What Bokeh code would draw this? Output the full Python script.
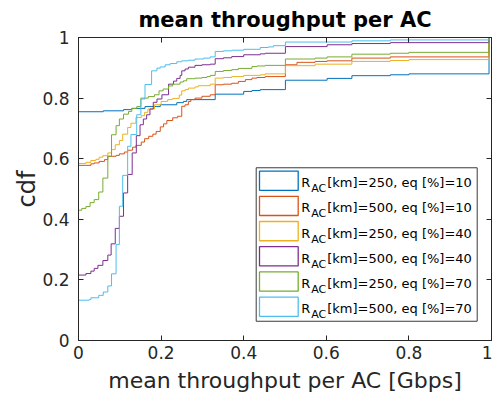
from bokeh.plotting import figure
from bokeh.models import Range1d, LinearAxis, FixedTicker, Label
from bokeh.embed import file_html
from bokeh.resources import INLINE

# ---------------- data (empirical CDF step points) ----------------
# R_AC[km]=250, eq[%]=10
x_r250_eq10 = [0, 0.06, 0.109, 0.129, 0.161, 0.198, 0.238, 0.254, 0.262, 0.331, 0.40, 0.42, 0.44,
               0.501, 0.602, 0.662, 0.755, 0.80, 0.994]
y_r250_eq10 = [0.755, 0.758, 0.762, 0.766, 0.772, 0.778, 0.785, 0.789, 0.795, 0.813, 0.822, 0.825, 0.828,
               0.859, 0.865, 0.874, 0.877, 0.880, 1.0]
# R_AC[km]=500, eq[%]=10
x_r500_eq10 = [0, 0.030, 0.038, 0.05, 0.063, 0.071, 0.091, 0.099, 0.111, 0.119, 0.131, 0.139, 0.152, 0.16,
               0.17, 0.18, 0.188, 0.198, 0.206, 0.214, 0.228, 0.240, 0.250, 0.258, 0.266, 0.272, 0.282,
               0.299, 0.319, 0.331, 0.351, 0.371, 0.387, 0.404, 0.420, 0.432, 0.452, 0.501, 0.529, 0.573,
               0.602, 0.662, 0.755, 0.994]
y_r500_eq10 = [0.578, 0.583, 0.586, 0.591, 0.597, 0.608, 0.611, 0.616, 0.622, 0.628, 0.638, 0.644, 0.655, 0.666,
               0.674, 0.681, 0.690, 0.705, 0.715, 0.726, 0.735, 0.740, 0.773, 0.778, 0.789, 0.795, 0.800,
               0.806, 0.811, 0.844, 0.846, 0.849, 0.855, 0.861, 0.866, 0.868, 0.871, 0.910, 0.918, 0.921,
               0.923, 0.932, 0.936, 1.0]
# R_AC[km]=250, eq[%]=40
x_r250_eq40 = [0, 0.018, 0.030, 0.042, 0.05, 0.059, 0.071, 0.080, 0.089, 0.099, 0.107, 0.119, 0.127, 0.139,
               0.152, 0.160, 0.168, 0.184, 0.200, 0.216, 0.228, 0.244, 0.250, 0.258, 0.266, 0.282, 0.290,
               0.319, 0.331, 0.351, 0.371, 0.40, 0.44, 0.452, 0.501, 0.573, 0.662, 0.755, 0.80, 0.994]
y_r250_eq40 = [0.584, 0.588, 0.594, 0.598, 0.605, 0.610, 0.619, 0.630, 0.646, 0.660, 0.681, 0.703, 0.717, 0.736,
               0.742, 0.753, 0.764, 0.778, 0.789, 0.795, 0.799, 0.810, 0.824, 0.828, 0.833, 0.837, 0.841,
               0.846, 0.866, 0.868, 0.871, 0.875, 0.877, 0.880, 0.907, 0.912, 0.921, 0.924, 0.927, 1.0]
# R_AC[km]=500, eq[%]=40
x_r500_eq40 = [0, 0.018, 0.030, 0.038, 0.047, 0.059, 0.071, 0.079, 0.089, 0.099, 0.109, 0.119, 0.130, 0.140,
               0.149, 0.157, 0.165, 0.173, 0.181, 0.190, 0.202, 0.218, 0.230, 0.238, 0.246, 0.250, 0.258,
               0.266, 0.282, 0.299, 0.319, 0.331, 0.351, 0.371, 0.40, 0.44, 0.452, 0.501, 0.602, 0.662,
               0.755, 0.994]
y_r500_eq40 = [0.216, 0.221, 0.229, 0.238, 0.248, 0.264, 0.282, 0.319, 0.370, 0.410, 0.487, 0.548, 0.619, 0.676,
               0.712, 0.731, 0.745, 0.764, 0.786, 0.797, 0.811, 0.846, 0.856, 0.865, 0.875, 0.890, 0.896,
               0.902, 0.908, 0.910, 0.912, 0.930, 0.933, 0.937, 0.943, 0.946, 0.948, 0.970, 0.976, 0.980,
               0.983, 1.0]
# R_AC[km]=250, eq[%]=70
x_r250_eq70 = [0, 0.008, 0.018, 0.028, 0.038, 0.049, 0.059, 0.071, 0.080, 0.091, 0.099, 0.109, 0.121, 0.129,
               0.141, 0.151, 0.169, 0.184, 0.195, 0.205, 0.218, 0.228, 0.246, 0.254, 0.262, 0.282, 0.299,
               0.311, 0.319, 0.331, 0.351, 0.371, 0.387, 0.420, 0.432, 0.452, 0.501, 0.573, 0.602, 0.662,
               0.755, 0.80, 0.994]
y_r250_eq70 = [0.430, 0.436, 0.442, 0.455, 0.465, 0.490, 0.536, 0.608, 0.679, 0.709, 0.731, 0.747, 0.756, 0.766,
               0.772, 0.800, 0.805, 0.811, 0.824, 0.830, 0.840, 0.846, 0.853, 0.857, 0.864, 0.866, 0.868,
               0.871, 0.875, 0.888, 0.891, 0.894, 0.898, 0.904, 0.906, 0.908, 0.929, 0.932, 0.936, 0.945,
               0.948, 0.951, 1.0]
# R_AC[km]=500, eq[%]=70
x_r500_eq70 = [0, 0.026, 0.030, 0.049, 0.060, 0.071, 0.080, 0.091, 0.099, 0.107, 0.119, 0.127, 0.141, 0.151,
               0.161, 0.177, 0.19, 0.198, 0.21, 0.222, 0.238, 0.25, 0.266, 0.282, 0.303, 0.319, 0.331, 0.351,
               0.371, 0.40, 0.44, 0.46, 0.472, 0.501, 0.662, 0.755, 0.994]
y_r500_eq70 = [0.133, 0.135, 0.141, 0.149, 0.160, 0.180, 0.220, 0.317, 0.443, 0.545, 0.641, 0.680, 0.745, 0.797,
               0.845, 0.890, 0.899, 0.903, 0.910, 0.914, 0.920, 0.923, 0.925, 0.929, 0.932, 0.936, 0.954, 0.956,
               0.958, 0.961, 0.967, 0.969, 0.973, 0.985, 0.989, 0.992, 1.0]

radius_km = ["250", "500", "250", "500", "250", "500"]
eq_pct = ["10", "10", "40", "40", "70", "70"]
colors = ["#0072BD", "#D95319", "#EDB120", "#7E2F8E", "#77AC30", "#4DBEEE"]

tick_values = [0, 0.2, 0.4, 0.6, 0.8, 1]
tick_text = ["0", "0.2", "0.4", "0.6", "0.8", "1"]

series = [(x_r250_eq10, y_r250_eq10), (x_r500_eq10, y_r500_eq10), (x_r250_eq40, y_r250_eq40),
          (x_r500_eq40, y_r500_eq40), (x_r250_eq70, y_r250_eq70), (x_r500_eq70, y_r500_eq70)]
for xs, ys in series:
    assert len(xs) == len(ys), (len(xs), len(ys))

# ---------------- figure ----------------
AX = "#262626"
FONT = "DejaVu Sans"
p = figure(width=492, height=406, x_range=Range1d(0, 1), y_range=Range1d(0, 1),
           output_backend="svg", toolbar_location=None,
           min_border_left=78, min_border_right=1, min_border_top=36, min_border_bottom=66)
p.background_fill_color = "white"
p.border_fill_color = "white"
p.outline_line_color = AX
p.outline_line_width = 1
p.grid.visible = False

p.title.text = "mean throughput per AC"
p.title.align = "center"
p.title.text_font = FONT
p.title.text_font_size = "21px"
p.title.text_font_style = "bold"
p.title.text_color = "#000000"
p.title.standoff = 11

overrides = {v: t for v, t in zip(tick_values, tick_text)}

def style_axis(ax, show_labels=True):
    ax.ticker = FixedTicker(ticks=tick_values)
    ax.major_tick_in = 5
    ax.major_tick_out = 0
    ax.minor_tick_line_color = None
    ax.axis_line_color = AX
    ax.major_tick_line_color = AX
    ax.major_label_text_font = FONT
    ax.major_label_text_color = AX
    if show_labels:
        ax.major_label_overrides = overrides
        ax.major_label_text_font_size = "17px"
    else:
        ax.major_label_overrides = {v: "" for v in tick_values}
        ax.major_label_text_font_size = "0px"
        ax.major_label_standoff = 0
        ax.axis_label_standoff = 0
    ax.axis_label_text_font = FONT
    ax.axis_label_text_font_size = "22px"
    ax.axis_label_text_font_style = "normal"
    ax.axis_label_text_color = AX

style_axis(p.xaxis[0])
style_axis(p.yaxis[0])
p.xaxis[0].axis_label = "mean throughput per AC [Gbps]"
p.xaxis[0].major_label_standoff = 5
p.xaxis[0].axis_label_standoff = 6
p.yaxis[0].axis_label = "cdf"
p.yaxis[0].axis_label_text_font_size = "24px"
p.yaxis[0].major_label_standoff = 9
p.yaxis[0].axis_label_standoff = -2

# right-hand box ticks: a second y axis drawn at x = 1, ticks pointing into the frame
ax_r = LinearAxis(fixed_location=1)
style_axis(ax_r, show_labels=False)
ax_r.major_tick_in = 0
ax_r.major_tick_out = 5
p.add_layout(ax_r, "left")
# top box ticks
ax_t = LinearAxis()
style_axis(ax_t, show_labels=False)
p.add_layout(ax_t, "above")

# ---------------- curves ----------------
for (xs, ys), c in zip(series, colors):
    sx = [0.0] + list(xs)      # CDF starts from 0 at x = 0
    sy = [0.0] + list(ys)
    p.step(x=sx, y=sy, mode="after", line_color=c, line_width=1)

# ---------------- legend (manual, for the subscript) ----------------
FL, FW, FT, FH = 78.0, 413.0, 36.0, 304.0   # frame geometry in page px
def dx(px):
    return (px - FL) / FW
def dy(py):
    return (FT + FH - py) / FH

p.quad(left=[dx(255.7)], right=[dx(476.7)], top=[dy(166.7)], bottom=[dy(320.7)],
       fill_color="white", line_color="#3a3a3a", line_width=1)
row_h = 25.3
for i, c in enumerate(colors):
    top = 170.0 + row_h * i
    p.quad(left=[dx(259.0)], right=[dx(297.7)], top=[dy(top)], bottom=[dy(top + 19.3)],
           fill_color="white", line_color=c, line_width=1.3)
    base_y = dy(181.7 + row_h * i)
    p.add_layout(Label(x=dx(300.7), y=base_y, text="R", text_font=FONT, text_font_size="13px",
                       text_color="#000000", text_baseline="alphabetic", text_align="left"))
    p.add_layout(Label(x=dx(300.7), y=base_y, x_offset=10, y_offset=-6, text="AC", text_font=FONT,
                       text_font_size="11px", text_color="#000000", text_baseline="alphabetic",
                       text_align="left"))
    p.add_layout(Label(x=dx(300.7), y=base_y, x_offset=26,
                       text="[km]=" + radius_km[i] + ", eq [%]=" + eq_pct[i],
                       text_font=FONT, text_font_size="13px", text_color="#000000",
                       text_baseline="alphabetic", text_align="left"))

open("out.html", "w").write(file_html(p, INLINE))
